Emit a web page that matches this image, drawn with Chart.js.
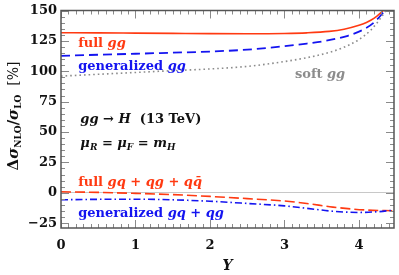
<!DOCTYPE html>
<html>
<head>
<meta charset="utf-8">
<script src="https://cdn.jsdelivr.net/npm/chart.js@4.4.1/dist/chart.umd.min.js"></script>
<style>
  html, body { margin: 0; padding: 0; background: #fff; }
</style>
</head>
<body>
<canvas id="c" width="399" height="275"></canvas>
<script>
// rapidity Y and Δσ_NLO/σ_LO [%] for each curve
const fullGgY = [0, 0.5, 1.0, 1.5, 2.0, 2.5, 3.0, 3.3, 3.6, 3.8, 4.0, 4.1, 4.2, 4.3, 4.36];
const fullGgV = [131.7, 131.6, 131.4, 131.2, 131.0, 130.9, 131.1, 131.6, 132.8, 134.6, 137.8, 140.2, 143.5, 148.5, 152];

const genGgY = [0, 0.5, 1.0, 1.5, 2.0, 2.5, 3.0, 3.3, 3.55, 3.85, 4.05, 4.2, 4.3, 4.37];
const genGgV = [112.7, 113.6, 114.4, 115.3, 116.2, 117.8, 120.6, 122.8, 125.0, 129.2, 134.0, 140.0, 146.5, 152];

const softGgY = [0, 0.5, 1.0, 1.5, 2.0, 2.5, 2.87, 3.32, 3.6, 3.77, 3.99, 4.17, 4.31, 4.38];
const softGgV = [96.0, 97.5, 99.0, 100.5, 101.9, 104.0, 106.8, 111.4, 115.5, 119.0, 125.7, 134.6, 145.5, 152];

const fullQY = [0, 0.5, 1.0, 1.5, 2.0, 2.5, 3.0, 3.3, 3.65, 4.1, 4.47];
const fullQV = [0.8, 0.3, -0.5, -1.5, -3.0, -4.8, -6.8, -8.8, -11.8, -14.2, -14.8];

const genQY = [0, 0.5, 1.0, 1.5, 2.0, 2.5, 3.0, 3.3, 3.65, 4.0, 4.25, 4.47];
const genQV = [-5.8, -5.4, -5.3, -5.8, -7.0, -8.8, -10.8, -12.8, -15.2, -16.2, -15.6, -14.3];

const yTicks = [-25, 0, 25, 50, 75, 100, 125, 150];
const xTicks = [0, 1, 2, 3, 4];

const SERIF = '"DejaVu Serif", serif';
const RED = '#ff3a12';
const BLUE = '#1414f0';
const GRAY = '#8c8c8c';

function pts(xs, vs) {
  return xs.map((x, i) => ({ x: x, y: vs[i] }));
}

function f(size, style) {
  return (style || 'bold') + ' ' + size + 'px ' + SERIF;
}

// draw a row of text pieces with their own fonts / baseline shifts
function rich(ctx, x, y, parts, color, align) {
  let w = 0;
  parts.forEach(p => { ctx.font = p.f; p.w = ctx.measureText(p.t).width; w += p.w; });
  let cx = align === 'center' ? x - w / 2 : x;
  ctx.fillStyle = color;
  ctx.textBaseline = 'alphabetic';
  ctx.textAlign = 'left';
  parts.forEach(p => {
    ctx.font = p.f;
    ctx.fillText(p.t, cx, y + (p.dy || 0));
    cx += p.w;
  });
}

const decor = {
  id: 'decor',
  afterDraw(chart) {
    const ctx = chart.ctx;
    const a = chart.chartArea;
    const xs = chart.scales.x, ys = chart.scales.y;
    ctx.save();

    // ticks pointing inwards on all four sides
    ctx.strokeStyle = '#8a8a8a';
    ctx.lineWidth = 1;
    ctx.beginPath();
    for (let v = -25; v <= 150; v += 5) {
      const py = Math.round(ys.getPixelForValue(v)) + 0.5;
      const len = v % 25 === 0 ? 8 : 4;
      ctx.moveTo(a.left, py); ctx.lineTo(a.left + len, py);
      ctx.moveTo(a.right, py); ctx.lineTo(a.right - len, py);
    }
    for (let i = 0; i <= 44; i++) {
      const v = i / 10;
      const px = Math.round(xs.getPixelForValue(v)) + 0.5;
      const len = i % 10 === 0 ? 8 : 4;
      ctx.moveTo(px, a.bottom); ctx.lineTo(px, a.bottom - len);
      ctx.moveTo(px, a.top); ctx.lineTo(px, a.top + len);
    }
    ctx.stroke();

    // frame
    ctx.strokeStyle = '#555';
    ctx.lineWidth = 1.5;
    ctx.strokeRect(a.left, a.top, a.right - a.left, a.bottom - a.top);

    const X = v => xs.getPixelForValue(v);
    const Y = v => ys.getPixelForValue(v);

    // curve labels
    rich(ctx, X(0.23), Y(119.8), [
      { t: 'full ', f: f(13) }, { t: 'gg', f: f(13, 'italic bold') }
    ], RED);
    rich(ctx, X(0.23), Y(101.4), [
      { t: 'generalized ', f: f(13) }, { t: 'gg', f: f(13, 'italic bold') }
    ], BLUE);
    rich(ctx, X(3.14), Y(94.6), [
      { t: 'soft ', f: f(13) }, { t: 'gg', f: f(13, 'italic bold') }
    ], GRAY);
    rich(ctx, X(0.23), Y(5.4), [
      { t: 'full ', f: f(13) }, { t: 'gq', f: f(13, 'italic bold') },
      { t: ' + ', f: f(13) }, { t: 'qg', f: f(13, 'italic bold') },
      { t: ' + ', f: f(13) }, { t: 'qq\u0304', f: f(13, 'italic bold') }
    ], RED);
    rich(ctx, X(0.23), Y(-19.7), [
      { t: 'generalized ', f: f(13) }, { t: 'gq', f: f(13, 'italic bold') },
      { t: ' + ', f: f(13) }, { t: 'qg', f: f(13, 'italic bold') }
    ], BLUE);

    // process info
    rich(ctx, X(0.26), Y(57.6), [
      { t: 'gg', f: f(13, 'italic bold') }, { t: ' \u2192 ', f: f(13) },
      { t: 'H', f: f(13, 'italic bold') }, { t: '  (13 TeV)', f: f(13) }
    ], '#111');
    rich(ctx, X(0.26), Y(37.9), [
      { t: '\u03bc', f: f(13, 'italic bold') }, { t: 'R', f: f(9, 'italic bold'), dy: 3 },
      { t: ' = ', f: f(13) },
      { t: '\u03bc', f: f(13, 'italic bold') }, { t: 'F', f: f(9, 'italic bold'), dy: 3 },
      { t: ' = ', f: f(13) },
      { t: 'm', f: f(13, 'italic bold') }, { t: 'H', f: f(9, 'italic bold'), dy: 3 }
    ], '#111');

    // axis titles
    rich(ctx, (a.left + a.right) / 2, 270, [{ t: 'Y', f: f(14, 'italic bold') }], '#111', 'center');
    ctx.translate(18, 116);
    ctx.rotate(-Math.PI / 2);
    rich(ctx, 0, 0, [
      { t: '\u0394', f: f(15) }, { t: '\u03c3', f: f(15, 'italic bold') },
      { t: 'NLO', f: f(9), dy: 3 }, { t: '/', f: f(15) },
      { t: '\u03c3', f: f(15, 'italic bold') }, { t: 'LO', f: f(9), dy: 3 },
      { t: '  [%]', f: f(14, 'normal') }
    ], '#111', 'center');

    ctx.restore();
  }
};

const line = (data, color, dash, width) => ({
  data: data,
  borderColor: color,
  borderWidth: width,
  borderDash: dash,
  pointRadius: 0,
  fill: false,
  cubicInterpolationMode: 'monotone'
});

new Chart(document.getElementById('c'), {
  type: 'line',
  data: {
    datasets: [
      line(pts(softGgY, softGgV), GRAY, [1.6, 3], 1.6),
      line(pts(genGgY, genGgV), BLUE, [9, 5], 1.8),
      line(pts(fullGgY, fullGgV), RED, [], 1.6),
      line(pts(genQY, genQV), BLUE, [7, 3, 1.5, 3], 1.6),
      line(pts(fullQY, fullQV), RED, [10, 4], 1.6)
    ]
  },
  options: {
    responsive: false,
    animation: false,
    devicePixelRatio: 1,
    layout: { padding: { left: 0, right: 5, top: 7, bottom: 0 } },
    plugins: { legend: { display: false }, tooltip: { enabled: false } },
    scales: {
      x: {
        type: 'linear',
        min: 0,
        max: 4.47,
        afterBuildTicks: s => { s.ticks = xTicks.map(v => ({ value: v })); },
        afterFit: s => { s.height = 47; },
        grid: { display: false, drawTicks: false },
        border: { display: false },
        ticks: { font: { family: SERIF, size: 13, weight: 'bold', lineHeight: 1 }, color: '#111', padding: 11 }
      },
      y: {
        min: -29,
        max: 150,
        afterBuildTicks: s => { s.ticks = yTicks.map(v => ({ value: v })); },
        afterFit: s => { s.width = 61; },
        grid: {
          drawTicks: false,
          color: c => (c.tick && c.tick.value === 0 ? '#c8c8c8' : 'rgba(0,0,0,0)'),
          lineWidth: 1
        },
        border: { display: false },
        ticks: {
          font: { family: SERIF, size: 13, weight: 'bold', lineHeight: 1 },
          color: '#111',
          padding: 4,
          callback: v => (v < 0 ? '\u2212' + Math.abs(v) : String(v))
        }
      }
    }
  },
  plugins: [decor]
});
</script>
</body>
</html>
